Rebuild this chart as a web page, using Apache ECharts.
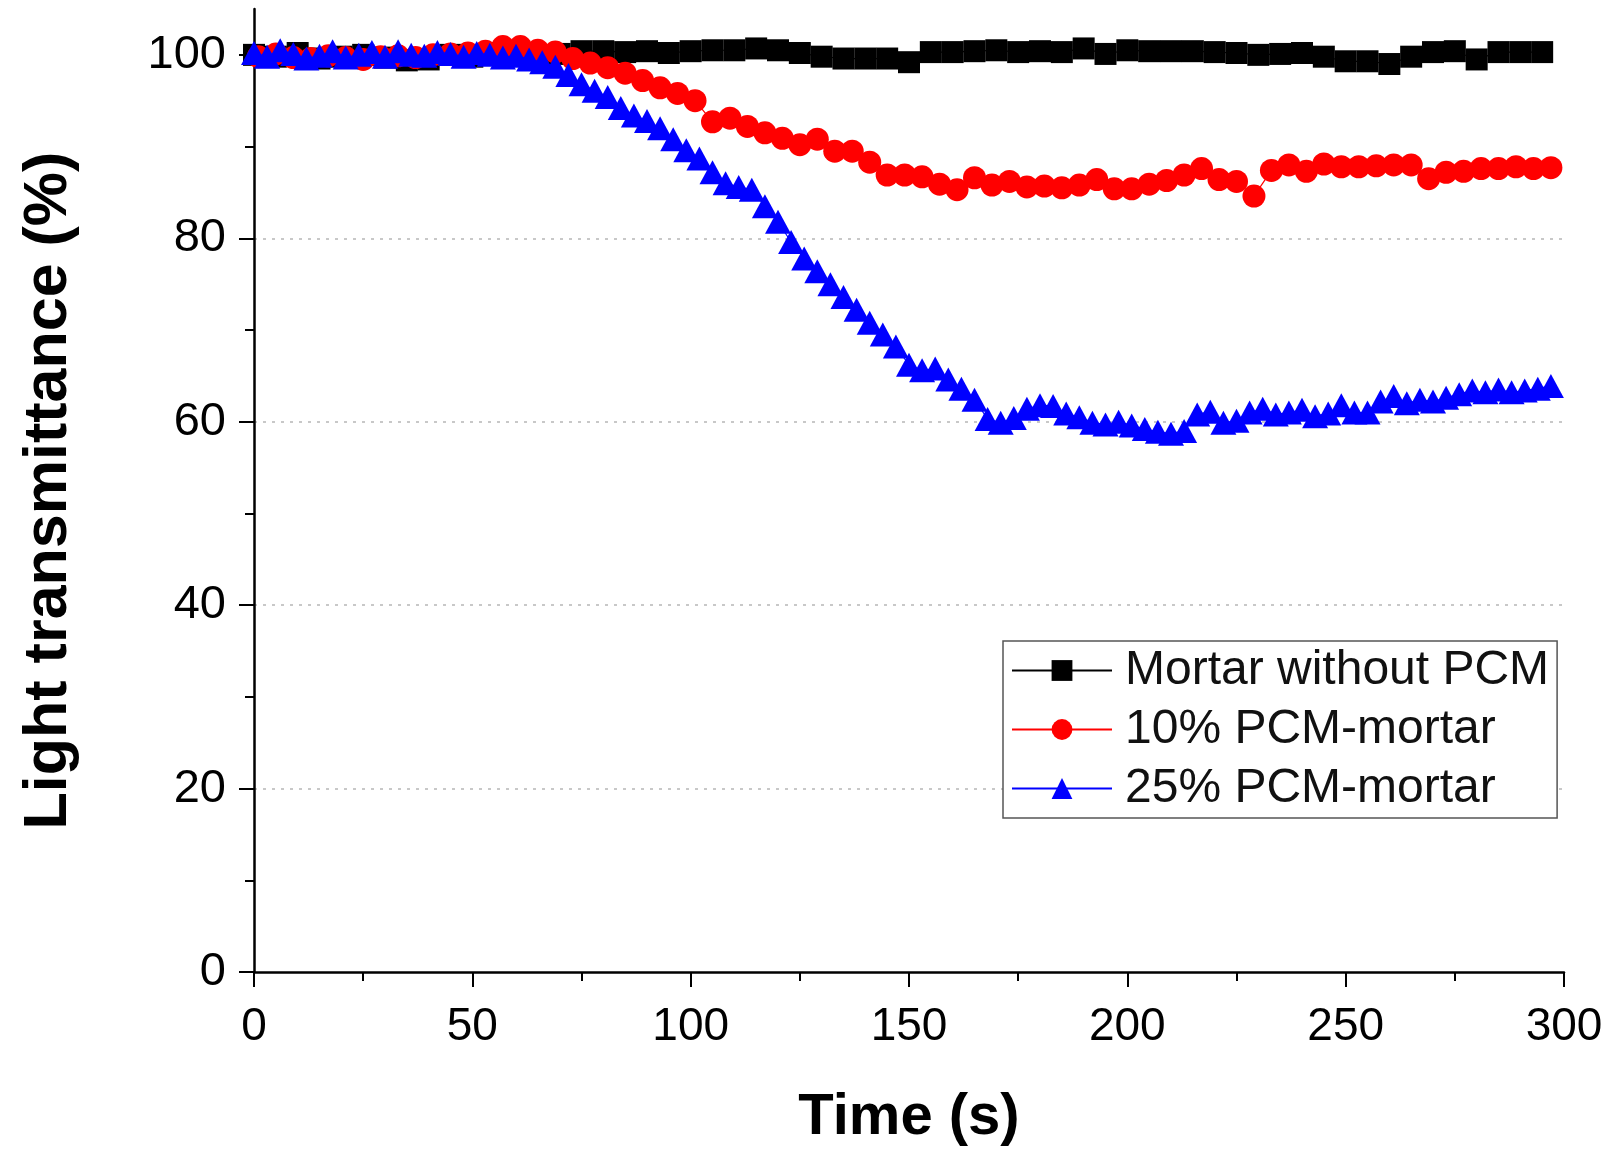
<!DOCTYPE html>
<html>
<head>
<meta charset="utf-8">
<script src="https://cdn.jsdelivr.net/npm/echarts@6/dist/echarts.min.js"></script>
<style>
html,body{margin:0;padding:0;background:#fff;}
#chart{width:1613px;height:1155px;}
</style>
</head>
<body>
<div id="chart"></div>
<script>
// ---- data ----
const seriesNames = ["Mortar without PCM", "10% PCM-mortar", "25% PCM-mortar"];

const timeMortar = [0,5,10,15,20,25,30,35,40,45,50,55,60,65,70,75,80,85,90,95,100,105,110,115,120,125,130,135,140,145,150,155,160,165,170,175,180,185,190,195,200,205,210,215,220,225,230,235,240,245,250,255,260,265,270,275,280,285,290,295];
const valMortar = [100.0,99.8,100.2,99.6,99.8,100.0,99.7,99.4,99.5,100.0,99.8,100.2,100.0,99.7,100.1,100.4,100.4,100.3,100.4,100.2,100.4,100.5,100.5,100.7,100.5,100.2,99.8,99.6,99.6,99.6,99.2,100.3,100.3,100.4,100.5,100.3,100.4,100.3,100.7,100.1,100.5,100.4,100.4,100.4,100.3,100.2,100.0,100.1,100.2,99.8,99.3,99.3,99.0,99.8,100.3,100.4,99.5,100.3,100.3,100.3];

const time10 = [1,5,9,13,17,21,25,29,33,37,41,45,49,53,57,61,65,69,73,77,81,85,89,93,97,101,105,109,113,117,121,125,129,133,137,141,145,149,153,157,161,165,169,173,177,181,185,189,193,197,201,205,209,213,217,221,225,229,233,237,241,245,249,253,257,261,265,269,273,277,281,285,289,293,297];
const val10 = [99.8,100.1,99.7,99.6,99.9,99.7,99.5,99.8,99.9,99.7,100.0,100.1,100.2,100.4,100.9,100.9,100.5,100.3,99.6,99.1,98.6,98.0,97.2,96.4,95.8,95.0,92.7,93.1,92.2,91.5,90.9,90.2,90.8,89.5,89.5,88.3,86.9,86.9,86.7,85.9,85.3,86.6,85.8,86.2,85.6,85.7,85.5,85.8,86.4,85.4,85.4,85.9,86.3,86.9,87.6,86.4,86.2,84.6,87.4,88.0,87.3,88.1,87.8,87.8,87.9,88.0,88.0,86.5,87.2,87.3,87.6,87.6,87.8,87.6,87.7];

const time25 = [0,3,6,9,12,15,18,21,24,27,30,33,36,39,42,45,48,51,54,57,60,63,66,69,72,75,78,81,84,87,90,93,96,99,102,105,108,111,114,117,120,123,126,129,132,135,138,141,144,147,150,153,156,159,162,165,168,171,174,177,180,183,186,189,192,195,198,201,204,207,210,213,216,219,222,225,228,231,234,237,240,243,246,249,252,255,258,261,264,267,270,273,276,279,282,285,288,291,294,297];
const val25 = [100.2,99.8,100.5,100.1,99.6,99.9,100.4,99.7,100.0,100.3,99.8,100.4,100.0,99.9,100.3,100.1,99.8,100.2,100.0,99.7,99.9,99.5,99.2,98.7,97.8,96.8,96.1,95.4,94.2,93.4,92.8,92.0,90.8,89.6,88.7,87.2,86.0,85.6,85.3,83.5,81.8,79.6,77.8,76.4,75.0,73.6,72.2,70.8,69.5,68.2,66.2,65.6,65.8,64.6,63.6,62.4,60.3,59.9,60.4,61.4,61.8,61.7,60.9,60.5,59.9,59.7,60.0,59.6,59.2,58.9,58.7,59.0,60.8,61.1,59.9,60.1,61.0,61.4,60.8,61.0,61.3,60.6,60.9,61.8,61.0,61.0,62.2,62.8,62.0,62.4,62.2,62.6,63.0,63.4,63.2,63.5,63.2,63.4,63.6,63.9];

const xTicks = [0,50,100,150,200,250,300];
const yTicks = [0,20,40,60,80,100];
const yMinorTicks = [10,30,50,70,90];

function pairs(xs, ys){ return xs.map((x,i)=>[x, ys[i]]); }

const chart = echarts.init(document.getElementById('chart'), null, {renderer:'canvas'});
const font = 'Liberation Sans, Arial, sans-serif';

chart.setOption({
  animation: false,
  backgroundColor: '#ffffff',
  grid: {left: 254, right: 49, top: 9, bottom: 183, containLabel: false},
  legend: {
    left: 1003, top: 641,
    orient: 'vertical',
    padding: [2, 8, 2, 8],
    itemGap: 4,
    itemWidth: 100, itemHeight: 26,
    borderColor: '#555', borderWidth: 1.5,
    backgroundColor: '#fff',
    textStyle: {fontFamily: font, fontSize: 48, color: '#111', lineHeight: 55, padding:[0,0,0,8]},
    data: seriesNames
  },
  xAxis: {
    type: 'value', min: 0, max: 300, interval: 50,
    name: 'Time (s)', nameLocation: 'middle', nameGap: 117,
    nameTextStyle: {fontFamily: font, fontSize: 58, fontWeight: 'bold', color: '#000'},
    axisLine: {show: true, onZero: false, lineStyle: {color: '#000', width: 2.5}},
    axisTick: {show: true, inside: false, length: 15, lineStyle: {color: '#000', width: 2}},
    minorTick: {show: true, splitNumber: 2, length: 9, lineStyle: {color: '#000', width: 2}},
    axisLabel: {fontFamily: font, fontSize: 46, color: '#000', margin: 32},
    splitLine: {show: false}
  },
  yAxis: [{
    type: 'value', min: 0, max: 105, interval: 20,
    name: 'Light transmittance (%)', nameLocation: 'middle', nameGap: 174,
    nameTextStyle: {fontFamily: font, fontSize: 61, fontWeight: 'bold', color: '#000'},
    axisLine: {show: true, onZero: false, lineStyle: {color: '#000', width: 2.5}},
    axisTick: {show: true, inside: false, length: 15, customValues: yTicks, lineStyle: {color: '#000', width: 2}},
    axisLabel: {fontFamily: font, fontSize: 47, color: '#000', margin: 28, customValues: yTicks},
    splitLine: {show: true, showMinLine: false, showMaxLine: false, lineStyle: {color: '#c8c8c8', type: [3, 6], width: 2}}
  },{
    type: 'value', min: 0, max: 105, position: 'left',
    axisLine: {show: false},
    axisTick: {show: true, inside: false, length: 9, customValues: yMinorTicks, lineStyle: {color: '#000', width: 2}},
    axisLabel: {show: false},
    splitLine: {show: false}
  }],
  series: [
    {
      name: seriesNames[0], type: 'line', data: pairs(timeMortar, valMortar),
      symbol: 'rect', symbolSize: 22, showAllSymbol: true,
      itemStyle: {color: '#000000'}, lineStyle: {color: '#000000', width: 1.2}, z: 2
    },
    {
      name: seriesNames[1], type: 'line', data: pairs(time10, val10),
      symbol: 'circle', symbolSize: 23, showAllSymbol: true,
      itemStyle: {color: '#ff0000'}, lineStyle: {color: '#ff0000', width: 1.2}, z: 3
    },
    {
      name: seriesNames[2], type: 'line', data: pairs(time25, val25),
      symbol: 'triangle', symbolSize: [26, 24], showAllSymbol: true,
      itemStyle: {color: '#0000ff'}, lineStyle: {color: '#0000ff', width: 1.2}, z: 4
    }
  ]
});
</script>
</body>
</html>
